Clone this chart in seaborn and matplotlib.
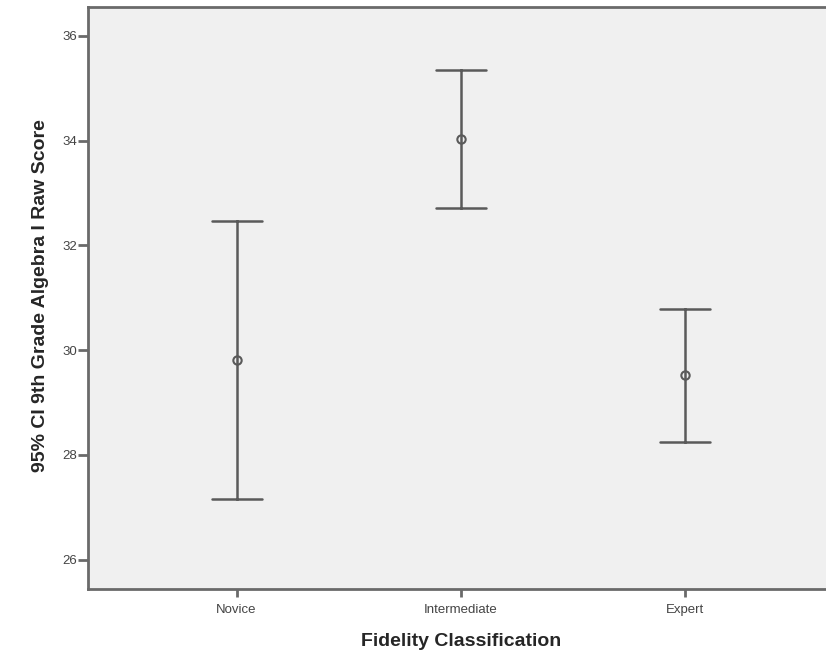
import numpy as np
import pandas as pd
import matplotlib
matplotlib.use("Agg")
import matplotlib.pyplot as plt
import seaborn as sns

groups = ["Novice", "Intermediate", "Expert"]
means = [29.81, 34.03, 29.52]
ci_low = [27.16, 32.71, 28.25]
ci_high = [32.47, 35.34, 30.78]
yticks = [26, 28, 30, 32, 34, 36]

# each group as (low, mean, high): median = mean, 100% interval = the CI
rows = []
for g, lo, m, hi in zip(groups, ci_low, means, ci_high):
    for v in (lo, m, hi):
        rows.append({"group": g, "score": v})
df = pd.DataFrame(rows)

sns.set_style("white")
plt.rcParams["font.family"] = ["Liberation Sans", "DejaVu Sans"]

fig = plt.figure(figsize=(8.26, 6.54), dpi=100)
ax = fig.add_axes([88 / 826, 1 - 589 / 654, (834 - 88) / 826, (589 - 7) / 654])
ax.set_facecolor("#f0f0f0")

line_c = "#5a5a5a"
sns.pointplot(data=df, x="group", y="score", order=groups,
              estimator="median", errorbar=("pi", 100),
              linestyle="none", marker="o", markersize=6,
              markerfacecolor="none", markeredgecolor=line_c, markeredgewidth=1.5,
              color=line_c, capsize=0.223,
              err_kws={"linewidth": 1.8, "color": line_c}, ax=ax)

ax.set_xlim(-0.662, 2.662)
ax.set_ylim(25.44, 36.55)
ax.set_yticks(yticks)
ax.set_yticklabels([str(t) for t in yticks])

for s in ["left", "bottom", "top", "right"]:
    ax.spines[s].set_color("#6a6a6a")
    ax.spines[s].set_linewidth(2)

ax.tick_params(axis="both", bottom=True, left=True, direction="out", length=7, width=2,
               color="#6a6a6a", labelsize=9.5, labelcolor="#444444", pad=1)
ax.tick_params(axis="x", length=6, pad=5)

ax.set_xlabel("Fidelity Classification", fontsize=14, fontweight="bold", labelpad=12)
ax.set_ylabel("95% CI 9th Grade Algebra I Raw Score", fontsize=14, fontweight="bold")
ax.yaxis.set_label_coords(-0.052, 0.505)

fig.savefig("out.png", dpi=100, facecolor="white")
